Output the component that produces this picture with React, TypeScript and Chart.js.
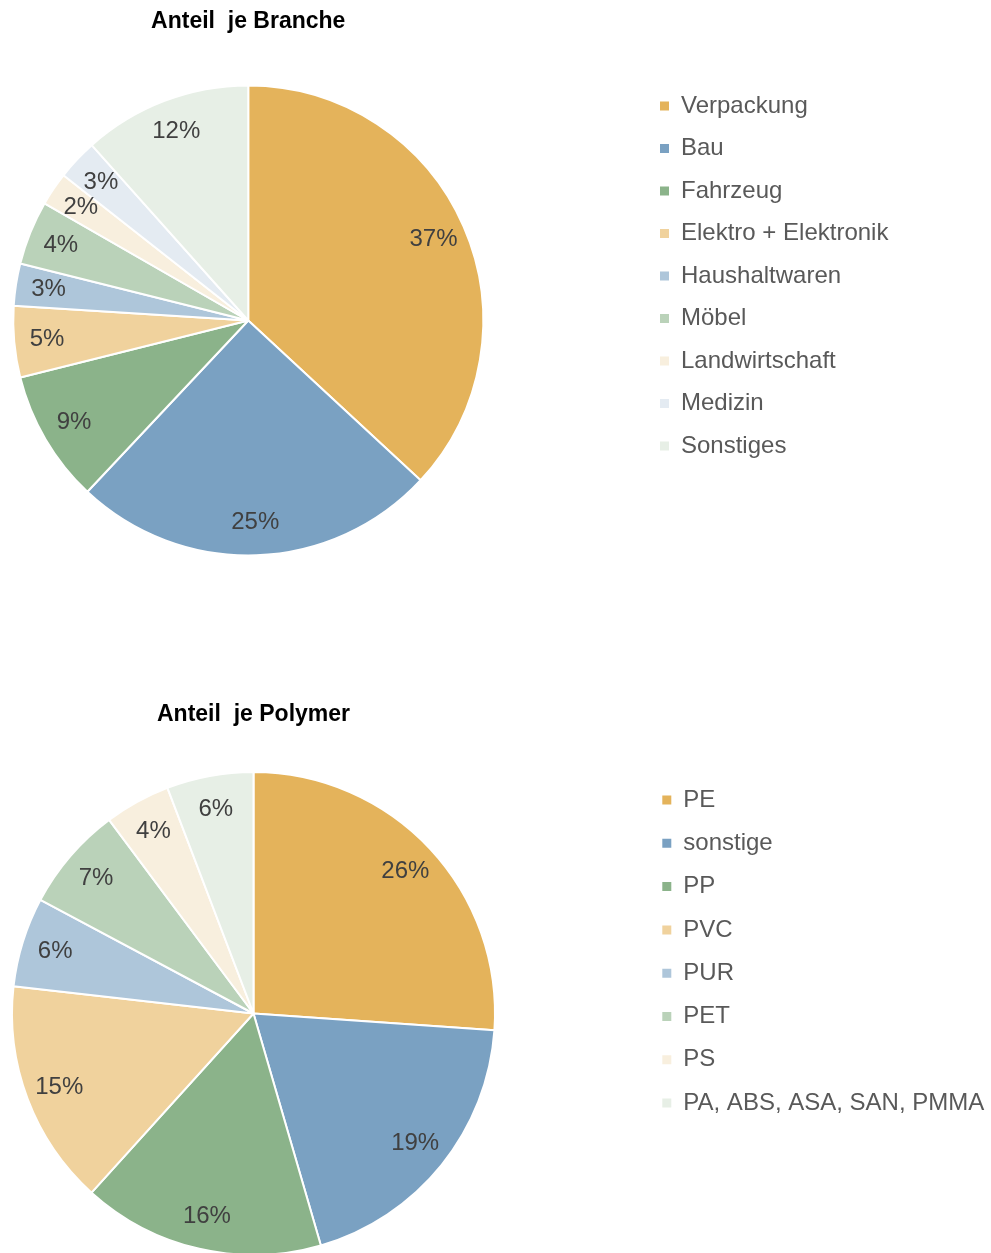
import React, { useEffect, useRef } from 'react';
import { Chart, registerables } from 'chart.js';

Chart.register(...registerables);

const FONT = "'Liberation Sans', Arial, sans-serif";

const brancheTitle = 'Anteil  je Branche';
const brancheLabels = ['Verpackung', 'Bau', 'Fahrzeug', 'Elektro + Elektronik', 'Haushaltwaren', 'Möbel', 'Landwirtschaft', 'Medizin', 'Sonstiges'];
const brancheValues = [36.9, 25.1, 9.1, 4.9, 2.9, 4.4, 2.3, 2.8, 11.6];
const brancheColors = ['#E4B35B', '#7AA1C2', '#8BB38A', '#F0D29D', '#AEC6DA', '#BAD2B9', '#F8EFDE', '#E4EBF2', '#E7EFE6'];

const polymerTitle = 'Anteil  je Polymer';
const polymerLabels = ['PE', 'sonstige', 'PP', 'PVC', 'PUR', 'PET', 'PS', 'PA, ABS, ASA, SAN, PMMA'];
const polymerValues = [26.1, 19.4, 16.2, 15.1, 6.0, 7.0, 4.4, 5.8];
const polymerColors = ['#E4B35B', '#7AA1C2', '#8BB38A', '#F0D29D', '#AEC6DA', '#BAD2B9', '#F8EFDE', '#E7EFE6'];

const LABEL_SIZE = 24;
const TITLE_SIZE = 23;
const BOX = 9;

const pctLabels = {
  id: 'pctLabels',
  afterDatasetsDraw(chart: any) {
    const meta = chart.getDatasetMeta(0);
    const data = chart.data.datasets[0].data as number[];
    const total = data.reduce((a, b) => a + b, 0);
    const ctx = chart.ctx;
    ctx.save();
    ctx.font = `${LABEL_SIZE}px ${FONT}`;
    ctx.fillStyle = '#404040';
    ctx.textAlign = 'center';
    ctx.textBaseline = 'middle';
    meta.data.forEach((arc: any, i: number) => {
      const p = arc.getProps(['x', 'y', 'startAngle', 'endAngle', 'outerRadius'], true);
      const mid = (p.startAngle + p.endAngle) / 2;
      const r = p.outerRadius * 0.86;
      ctx.fillText(Math.round((data[i] / total) * 100) + '%', p.x + Math.cos(mid) * r, p.y + Math.sin(mid) * r);
    });
    ctx.restore();
  },
};

type Cfg = {
  title: string;
  labels: string[];
  values: number[];
  colors: string[];
  left: number;
  top: number;
  width: number;
  height: number;
  legendLeft: number;
  legendPad: number;
  legendTitlePad: number;
  titlePadTop: number;
  titlePadBottom: number;
  padBottom: number;
};

function PieChart(cfg: Cfg) {
  const ref = useRef<HTMLCanvasElement | null>(null);
  useEffect(() => {
    const canvas = ref.current!;
    const mctx = document.createElement('canvas').getContext('2d')!;
    mctx.font = `${LABEL_SIZE}px ${FONT}`;
    const maxText = Math.max(...cfg.labels.map((l) => mctx.measureText(l).width));
    const legendW = cfg.legendPad + (BOX + LABEL_SIZE / 2 + maxText) + 10;
    const padRight = cfg.width - cfg.legendLeft - legendW;
    const chart = new Chart(canvas, {
      type: 'pie',
      data: {
        labels: cfg.labels,
        datasets: [
          {
            data: cfg.values,
            backgroundColor: cfg.colors,
            borderColor: '#ffffff',
            borderWidth: 2,
          },
        ],
      },
      options: {
        responsive: false,
        animation: false,
        devicePixelRatio: 1,
        layout: { padding: { left: 0, top: 0, right: padRight, bottom: cfg.padBottom } },
        plugins: {
          title: {
            display: true,
            text: cfg.title,
            color: '#000000',
            fullSize: false,
            font: { family: FONT, size: TITLE_SIZE, weight: 'bold' },
            padding: { top: cfg.titlePadTop, bottom: cfg.titlePadBottom },
          },
          legend: {
            position: 'right',
            align: 'start',
            fullSize: true,
            title: {
              display: true,
              text: ' ',
              font: { family: FONT, size: 10 },
              padding: { top: cfg.legendTitlePad, bottom: 0 },
            },
            labels: {
              boxWidth: BOX,
              boxHeight: BOX,
              padding: cfg.legendPad,
              color: '#595959',
              font: { family: FONT, size: LABEL_SIZE },
              generateLabels: (ch: any) =>
                (Chart as any).overrides.pie.plugins.legend.labels
                  .generateLabels(ch)
                  .map((it: any) => ({ ...it, lineWidth: 0, strokeStyle: it.fillStyle })),
            },
          },
          tooltip: { enabled: false },
        },
      } as any,
      plugins: [pctLabels],
    });
    return () => chart.destroy();
  }, []);
  return (
    <canvas
      ref={ref}
      width={cfg.width}
      height={cfg.height}
      style={{ position: 'absolute', left: cfg.left, top: cfg.top, width: cfg.width, height: cfg.height }}
    />
  );
}

export default function App() {
  return (
    <div style={{ position: 'absolute', left: 0, top: 0, width: 991, height: 1253, overflow: 'hidden', background: '#ffffff' }}>
      <PieChart
        title={brancheTitle}
        labels={brancheLabels}
        values={brancheValues}
        colors={brancheColors}
        left={-145}
        top={0}
        width={1200}
        height={600}
        legendLeft={786.5}
        legendPad={18.5}
        legendTitlePad={63.5}
        titlePadTop={8}
        titlePadBottom={48.9}
        padBottom={43.5}
      />
      <PieChart
        title={polymerTitle}
        labels={polymerLabels}
        values={polymerValues}
        colors={polymerColors}
        left={-136}
        top={660}
        width={1200}
        height={600}
        legendLeft={779}
        legendPad={19.3}
        legendTitlePad={96.7}
        titlePadTop={41.2}
        titlePadBottom={42.2}
        padBottom={4}
      />
    </div>
  );
}
